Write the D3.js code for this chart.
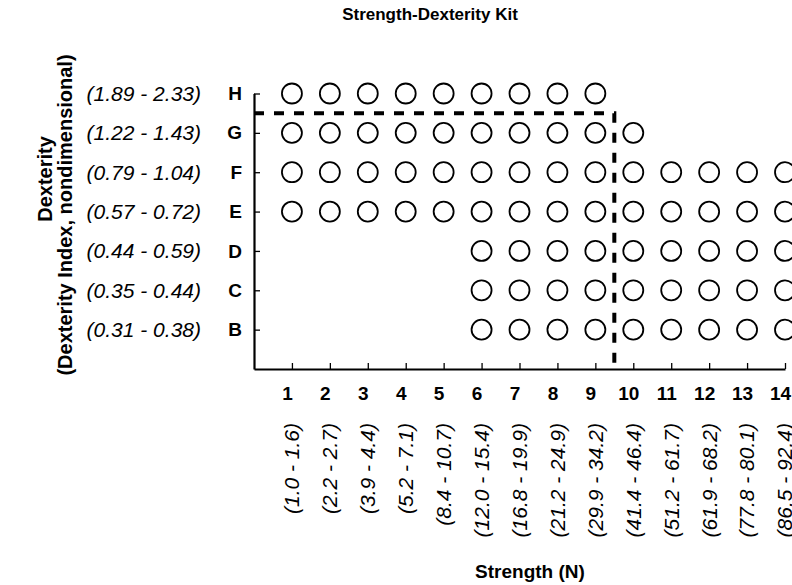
<!DOCTYPE html>
<html>
<head>
<meta charset="utf-8">
<script src="https://cdn.jsdelivr.net/npm/d3@7"></script>
<style>
  body { margin: 0; background: #fff; }
  text { font-family: "Liberation Sans", Arial, sans-serif; fill: #000; }
  .bold { font-weight: bold; }
  .ital { font-style: italic; }
</style>
</head>
<body>
<div id="chart"></div>
<script>
// chart size
var svgWidth = 792;
var svgHeight = 585;

// dexterity rows, bottom to top
var rowCodes = ["B", "C", "D", "E", "F", "G", "H"];
var rowRanges = ["(0.31 - 0.38)", "(0.35 - 0.44)", "(0.44 - 0.59)", "(0.57 - 0.72)",
                 "(0.79 - 1.04)", "(1.22 - 1.43)", "(1.89 - 2.33)"];

// strength columns
var colNumbers = [1, 2, 3, 4, 5, 6, 7, 8, 9, 10, 11, 12, 13, 14];
var colRanges = ["(1.0 - 1.6)", "(2.2 - 2.7)", "(3.9 - 4.4)", "(5.2 - 7.1)", "(8.4 - 10.7)",
                 "(12.0 - 15.4)", "(16.8 - 19.9)", "(21.2 - 24.9)", "(29.9 - 34.2)",
                 "(41.4 - 46.4)", "(51.2 - 61.7)", "(61.9 - 68.2)", "(77.8 - 80.1)", "(86.5 - 92.4)"];

// which strength columns exist for each dexterity row
var colsB = [6, 7, 8, 9, 10, 11, 12, 13, 14];
var colsC = [6, 7, 8, 9, 10, 11, 12, 13, 14];
var colsD = [6, 7, 8, 9, 10, 11, 12, 13, 14];
var colsE = [1, 2, 3, 4, 5, 6, 7, 8, 9, 10, 11, 12, 13, 14];
var colsF = [1, 2, 3, 4, 5, 6, 7, 8, 9, 10, 11, 12, 13, 14];
var colsG = [1, 2, 3, 4, 5, 6, 7, 8, 9, 10];
var colsH = [1, 2, 3, 4, 5, 6, 7, 8, 9];
var rowCols = [colsB, colsC, colsD, colsE, colsF, colsG, colsH];

// dashed divider: after column 9, between rows G and H
var dividerCol = 9.5;
var dividerRow = 6.5;

var svg = d3.select("#chart")
    .append("svg")
    .attr("width", svgWidth)
    .attr("height", svgHeight);

// row index 1..7 for B..H, 0 is the bottom axis
var x = d3.scaleLinear().domain([0, 14]).range([254, 785]);
var y = d3.scaleLinear().domain([0, 7]).range([369, 93.5]);

// cells to draw
var cells = [];
rowCols.forEach(function(cols, i) {
    cols.forEach(function(c) { cells.push({ col: c, row: i + 1 }); });
});

// title
svg.append("text")
    .attr("class", "bold")
    .attr("x", 430)
    .attr("y", 20)
    .attr("text-anchor", "middle")
    .style("font-size", "17px")
    .text("Strength-Dexterity Kit");

// y axis with inward ticks, letter labels
var yAxis = svg.append("g")
    .attr("transform", "translate(" + x(0) + ",0)")
    .call(d3.axisLeft(y)
        .tickValues(d3.range(1, 8))
        .tickSizeInner(-6)
        .tickSizeOuter(0)
        .tickPadding(12)
        .tickFormat(function(d) { return rowCodes[d - 1]; }));

// x axis with inward ticks, number labels
var xAxis = svg.append("g")
    .attr("transform", "translate(0," + y(0) + ")")
    .call(d3.axisBottom(x)
        .tickValues(colNumbers)
        .tickSizeInner(-6)
        .tickSizeOuter(0)
        .tickPadding(18)
        .tickFormat(function(d) { return d; }));

[xAxis, yAxis].forEach(function(ax) {
    ax.select(".domain").attr("stroke-width", 2.2);
    ax.selectAll(".tick line").attr("stroke-width", 1.3);
    ax.selectAll(".tick text")
        .attr("class", "bold")
        .style("font-family", "'Liberation Sans', Arial, sans-serif")
        .style("font-size", "19px");
});
// numbers sit a little left of their ticks
xAxis.selectAll(".tick text").attr("dx", -5);

// italic dexterity ranges
svg.selectAll(".rowrange")
    .data(rowRanges)
    .enter()
    .append("text")
    .attr("class", "ital rowrange")
    .attr("x", 201)
    .attr("y", function(d, i) { return y(i + 1); })
    .attr("dy", "0.35em")
    .attr("text-anchor", "end")
    .style("font-size", "21px")
    .text(function(d) { return d; });

// italic strength ranges, rotated
svg.selectAll(".colrange")
    .data(colRanges)
    .enter()
    .append("text")
    .attr("class", "ital colrange")
    .attr("transform", function(d, i) { return "translate(" + x(colNumbers[i]) + ",423) rotate(-90)"; })
    .attr("dy", "0.35em")
    .attr("text-anchor", "end")
    .style("font-size", "21px")
    .text(function(d) { return d; });

// axis titles
svg.append("text")
    .attr("class", "bold")
    .attr("x", 530)
    .attr("y", 578)
    .attr("text-anchor", "middle")
    .style("font-size", "19px")
    .text("Strength (N)");

svg.append("text")
    .attr("class", "bold")
    .attr("transform", "translate(52,179) rotate(-90)")
    .attr("text-anchor", "middle")
    .style("font-size", "20px")
    .text("Dexterity");

svg.append("text")
    .attr("class", "bold")
    .attr("transform", "translate(72,215) rotate(-90)")
    .attr("text-anchor", "middle")
    .style("font-size", "20px")
    .text("(Dexterity Index, nondimensional)");

// kit items
svg.selectAll("circle")
    .data(cells)
    .enter()
    .append("circle")
    .attr("cx", function(d) { return x(d.col); })
    .attr("cy", function(d) { return y(d.row); })
    .attr("r", 10)
    .attr("fill", "none")
    .attr("stroke", "#000")
    .attr("stroke-width", 1.8);

// dashed divider
svg.append("path")
    .attr("d", d3.line()([[x(0), y(dividerRow)], [x(dividerCol), y(dividerRow)], [x(dividerCol), y(0)]]))
    .attr("fill", "none")
    .attr("stroke", "#000")
    .attr("stroke-width", 4)
    .attr("stroke-dasharray", "10,10");
</script>
</body>
</html>
